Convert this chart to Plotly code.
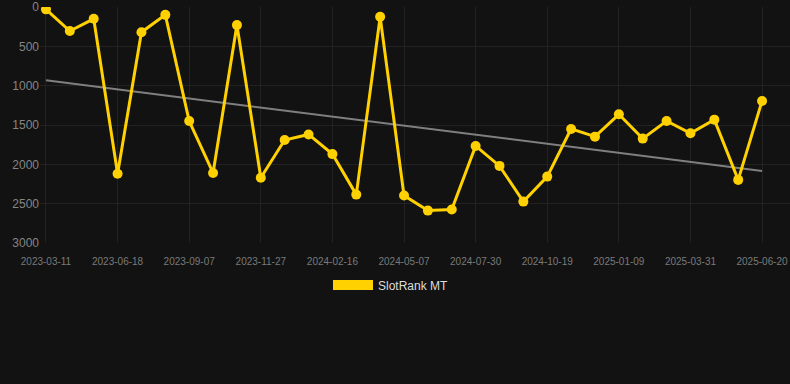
import numpy as np
import plotly.graph_objects as go

dates = [
    "2023-03-11", "2023-04-13", "2023-05-16", "2023-06-18", "2023-07-15", "2023-08-11",
    "2023-09-07", "2023-10-04", "2023-10-31", "2023-11-27", "2023-12-24", "2024-01-20",
    "2024-02-16", "2024-03-14", "2024-04-10", "2024-05-07", "2024-06-04", "2024-07-02",
    "2024-07-30", "2024-08-26", "2024-09-22", "2024-10-19", "2024-11-16", "2024-12-13",
    "2025-01-09", "2025-02-05", "2025-03-04", "2025-03-31", "2025-04-27", "2025-05-24",
    "2025-06-20",
]
ranks = [
    30, 305, 150, 2120, 320, 100, 1450, 2110, 230, 2170, 1690, 1620,
    1870, 2385, 125, 2397, 2588, 2575, 1766, 2020, 2474, 2156, 1550, 1648,
    1364, 1673, 1449, 1605, 1432, 2198, 1194,
]
tick_labels = dates[::3]
y_ticks = [0, 500, 1000, 1500, 2000, 2500, 3000]
series_name = "SlotRank MT"

idx = np.arange(len(ranks))
slope, intercept = np.polyfit(idx, ranks, 1)
trend = slope * idx + intercept

gold = "#FFD100"

fig = go.Figure()
fig.add_trace(go.Scatter(
    x=dates, y=trend.tolist(), mode="lines",
    line=dict(color="#7f7f7f", width=2),
    showlegend=False, hoverinfo="skip",
))
fig.add_trace(go.Scatter(
    x=dates, y=ranks, mode="lines+markers",
    line=dict(color=gold, width=3),
    marker=dict(color=gold, size=10),
    showlegend=False, name=series_name,
))
fig.add_trace(go.Scatter(
    x=[None], y=[None], mode="lines",
    line=dict(color=gold, width=12),
    name=series_name, showlegend=True,
))

fig.update_layout(
    width=790, height=384,
    paper_bgcolor="#121212", plot_bgcolor="#121212",
    margin=dict(l=40, r=0, t=7, b=141),
    font=dict(family="Arial, Liberation Sans, sans-serif", color="#888"),
    legend=dict(
        orientation="h", x=0.468, xanchor="center", y=-0.178, yanchor="middle",
        font=dict(size=12, color="#dddddd"), itemwidth=40,
        bgcolor="rgba(0,0,0,0)",
    ),
    xaxis=dict(
        type="category", range=[-0.25, 31.17],
        tickmode="array", tickvals=tick_labels, ticktext=tick_labels,
        tickfont=dict(size=10, color="#7a7a7a"),
        showgrid=True, gridcolor="#222222", gridwidth=1,
        zeroline=False, showline=False,
        ticks="outside", ticklen=9, tickcolor="rgba(0,0,0,0)", tickangle=0,
    ),
    yaxis=dict(
        range=[3000, 0], tickmode="array", tickvals=y_ticks,
        tickfont=dict(size=12, color="#858585"),
        showgrid=True, gridcolor="#222222", gridwidth=1,
        zeroline=False, showline=False, ticks="",
    ),
)

fig.write_html(
    "out.html",
    config={"displayModeBar": False},
    post_script="document.body.style.margin='0';document.body.style.background='#121212';",
)
